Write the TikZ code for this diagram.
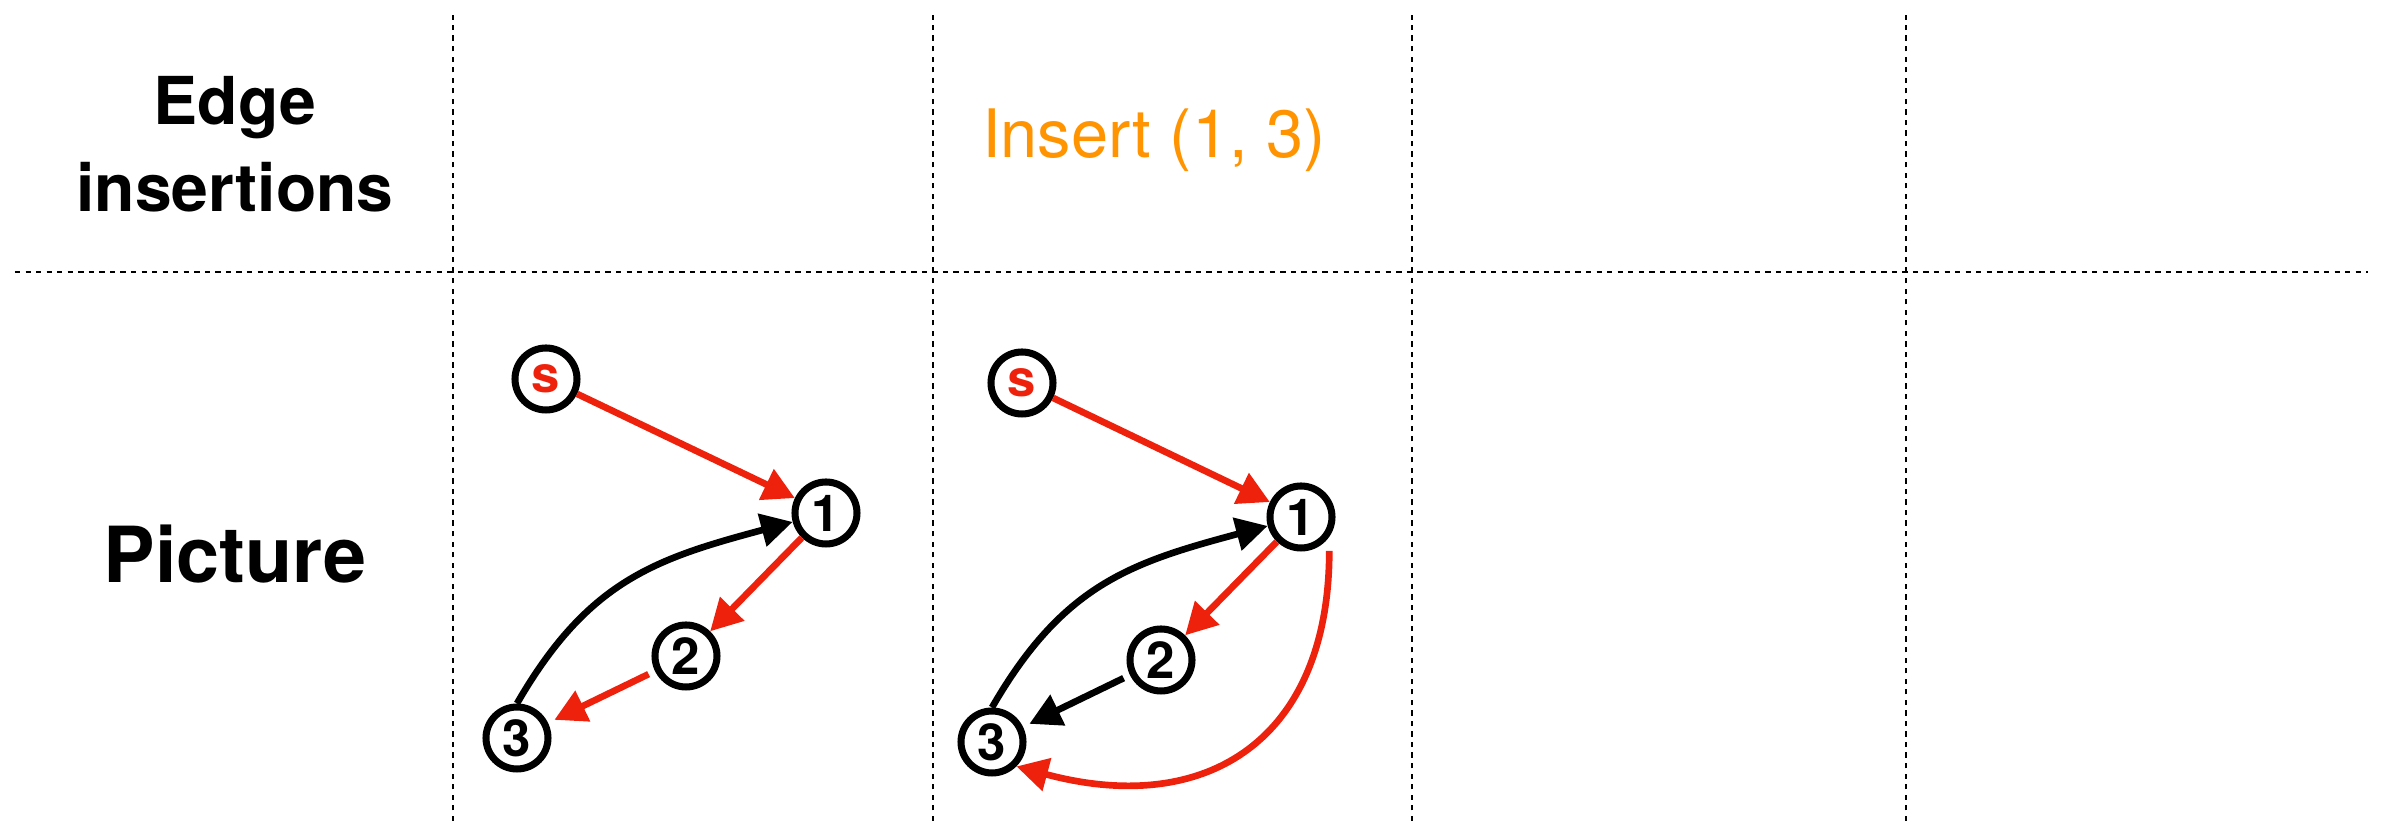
\documentclass[tikz,border=0pt]{standalone}
\usepackage{fontspec}
\setmainfont{TeX Gyre Heros}
\usetikzlibrary{arrows.meta}
\definecolor{keyred}{RGB}{238,34,12}
\definecolor{keyorange}{RGB}{255,147,0}

\begin{document}
\begin{tikzpicture}[
		vtx/.style = {draw, circle, line width=2pt, minimum size=0.62cm, inner sep=0pt, font=\fontsize{14.5}{15}\selectfont\bfseries},
		sepline/.style = {line width=0.65pt, dash pattern=on 1.5pt off 1.5pt},
		redarc/.style = {keyred, line width=1.9pt, -{Triangle[length=9pt,width=9.3pt]}},
		blackarc/.style = {black, line width=1.9pt, -{Triangle[length=9pt,width=9.3pt]}},
		rowhead/.style = {font=\fontsize{18.8}{24.7}\selectfont\bfseries, align=center}
	]
	\useasboundingbox (0,0) rectangle (23.83,8.26);
	
	% table lines
	\draw[sepline] (0.15,5.54) -- (23.68,5.54);
	\foreach \x in {4.53,9.33,14.12,19.06}
		\draw[sepline] (\x,0.05) -- (\x,8.11);
	
	\node[rowhead] (edges) at (2.35,6.815) {Edge\\insertions};
	\node[rowhead, font=\fontsize{22}{26}\selectfont\bfseries, anchor=base] (pic) at (2.35,2.43) {Picture};
	\node[anchor=base, text=keyorange, font=\fontsize{19}{22}\selectfont] (ins) at (11.54,6.68) {Insert (1, 3)};
	
	% first picture
	\node[vtx, text=keyred] (s1) at (5.46,4.47) {s};
	\node[vtx] (a1) at (8.26,3.13) {1};
	\node[vtx] (b1) at (6.86,1.70) {2};
	\node[vtx] (c1) at (5.17,0.88) {3};
	\draw[redarc] (s1) -- (a1);
	\draw[redarc] (a1) -- (b1);
	\draw[redarc, shorten <=2pt, shorten >=2pt] (b1) -- (c1);
	\draw[blackarc] (c1.north) to[out=60, in=195, looseness=1.1] (a1);
	
	% second picture
	\node[vtx, text=keyred] (s2) at (10.22,4.43) {s};
	\node[vtx] (a2) at (13.01,3.09) {1};
	\node[vtx] (b2) at (11.61,1.66) {2};
	\node[vtx] (c2) at (9.92,0.84) {3};
	\draw[redarc] (s2) -- (a2);
	\draw[redarc] (a2) -- (b2);
	\draw[blackarc, shorten <=2pt, shorten >=2pt] (b2) -- (c2);
	\draw[blackarc] (c2.north) to[out=60, in=195, looseness=1.1] (a2);
	\draw[redarc, shorten <=4pt] (a2.-35) .. controls +(0,-2) and +(-15:2) .. (c2.-45);
\end{tikzpicture}
\end{document}
